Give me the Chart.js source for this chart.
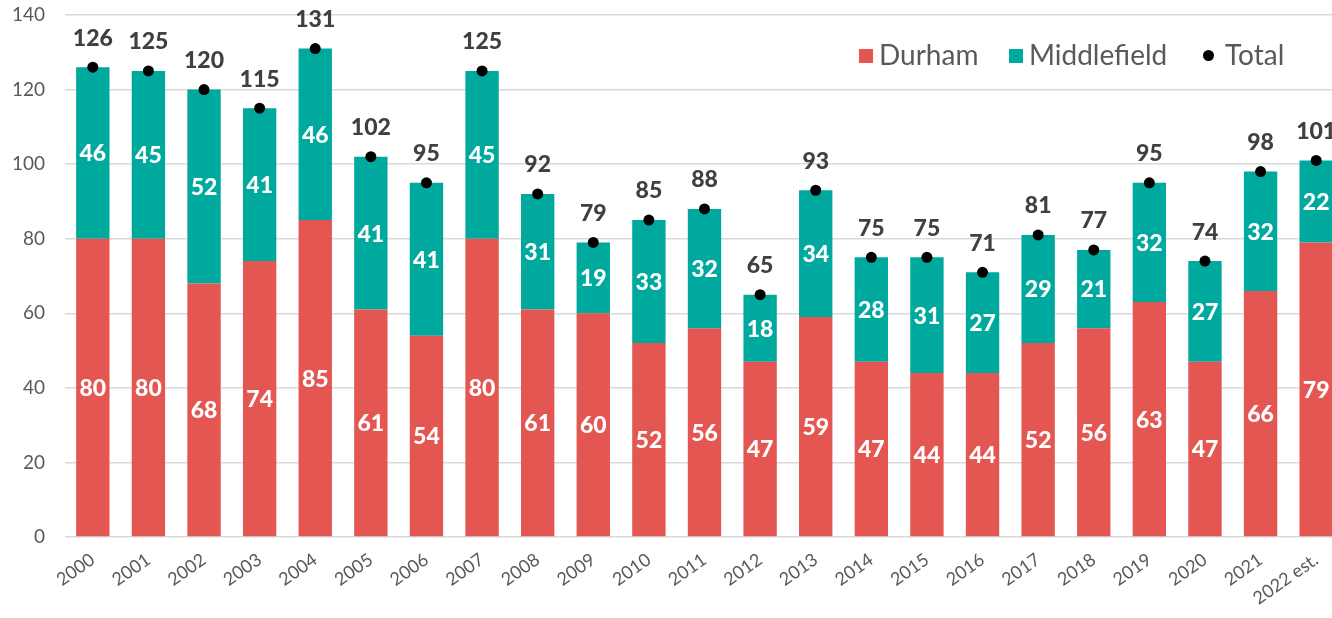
<!DOCTYPE html>
<html>
<head>
<meta charset="utf-8">
<script src="https://cdn.jsdelivr.net/npm/chart.js@4.4.1/dist/chart.umd.min.js"></script>
<style>
    html, body { margin: 0; padding: 0; background: #fff; overflow: hidden; }
    #wrap { position: relative; width: 1350px; height: 618px; }
    .legend-item { position: absolute; top: 39px; font-family: Lato, sans-serif; font-size: 28px; color: #595959; white-space: nowrap; line-height: 30px; }
    .swatch { display: inline-block; width: 14px; height: 14px; margin-right: 6px; vertical-align: 2px; }
    .dot { display: inline-block; width: 11px; height: 11px; border-radius: 50%; background: #000; margin-right: 11px; vertical-align: 4px; }
</style>
</head>
<body>
<div id="wrap">
    <canvas id="chart"></canvas>
    <div class="legend-item" style="left:859px"><span class="swatch" style="background:#E35651"></span>Durham</div>
    <div class="legend-item" style="left:1009px"><span class="swatch" style="background:#00A99D"></span>Middlefield</div>
    <div class="legend-item" style="left:1203px"><span class="dot"></span>Total</div>
</div>
<script>
const years = ['2000', '2001', '2002', '2003', '2004', '2005', '2006', '2007', '2008', '2009', '2010',
    '2011', '2012', '2013', '2014', '2015', '2016', '2017', '2018', '2019', '2020', '2021', '2022 est.'];
const durham = [80, 80, 68, 74, 85, 61, 54, 80, 61, 60, 52, 56, 47, 59, 47, 44, 44, 52, 56, 63, 47, 66, 79];
const middlefield = [46, 45, 52, 41, 46, 41, 41, 45, 31, 19, 33, 32, 18, 34, 28, 31, 27, 29, 21, 32, 27, 32, 22];
const totals = [126, 125, 120, 115, 131, 102, 95, 125, 92, 79, 85, 88, 65, 93, 75, 75, 71, 81, 77, 95, 74, 98, 101];
const yTicks = [0, 20, 40, 60, 80, 100, 120, 140];

const RED = '#E35651';
const TEAL = '#00A99D';
const FONT = 'Lato, sans-serif';

// draws the value labels (inside bars and above the total dots)
const valueLabels = {
    id: 'valueLabels',
    afterDatasetsDraw(chart) {
        const ctx = chart.ctx;
        ctx.save();
        ctx.textAlign = 'center';
        ctx.textBaseline = 'middle';
        ctx.font = `900 23px ${FONT}`;
        chart.data.datasets.forEach((ds, i) => {
            const meta = chart.getDatasetMeta(i);
            meta.data.forEach((el, j) => {
                const v = ds.data[j];
                if (ds.type === 'bar') {
                    ctx.fillStyle = '#ffffff';
                    ctx.fillText(v, el.x, (el.y + el.base) / 2 + 1);
                } else {
                    ctx.fillStyle = '#404040';
                    ctx.fillText(v, el.x, el.y - 29);
                }
            });
        });
        ctx.restore();
    }
};

new Chart(document.getElementById('chart'), {
    data: {
        labels: years,
        datasets: [
            { type: 'line', label: 'Total', data: totals, yAxisID: 'yTotal', showLine: false, order: 0,
              pointRadius: 5.5, pointHoverRadius: 5.5, pointBackgroundColor: '#000', pointBorderWidth: 0 },
            { type: 'bar', label: 'Durham', data: durham, backgroundColor: RED, yAxisID: 'y', order: 1,
              categoryPercentage: 1, barPercentage: 0.6 },
            { type: 'bar', label: 'Middlefield', data: middlefield, backgroundColor: TEAL, yAxisID: 'y', order: 2,
              categoryPercentage: 1, barPercentage: 0.6 }
        ]
    },
    options: {
        responsive: true,
        maintainAspectRatio: false,
        animation: false,
        events: [],
        layout: { padding: { top: 15, right: 6, left: 0, bottom: 0 } },
        plugins: { legend: { display: false }, tooltip: { enabled: false } },
        scales: {
            x: {
                stacked: true,
                grid: { display: false },
                border: { display: false },
                ticks: { color: '#595959', font: { family: FONT, size: 18 }, minRotation: 35, maxRotation: 35, padding: 4 },
                afterFit(scale) { scale.height = 81; }
            },
            y: {
                stacked: true,
                min: 0, max: 140,
                afterBuildTicks(scale) { scale.ticks = yTicks.map(v => ({ value: v })); },
                // invisible tick marks push the labels away from the plot
                grid: { color: '#D9D9D9', lineWidth: 1.5, drawTicks: true, tickLength: 20, tickColor: 'rgba(0,0,0,0)' },
                border: { display: false },
                ticks: { color: '#595959', font: { family: FONT, size: 19 }, padding: 0 },
                afterFit(scale) { scale.width = 65; }
            },
            yTotal: { display: false, min: 0, max: 140 }
        }
    },
    plugins: [valueLabels]
});
</script>
</body>
</html>
